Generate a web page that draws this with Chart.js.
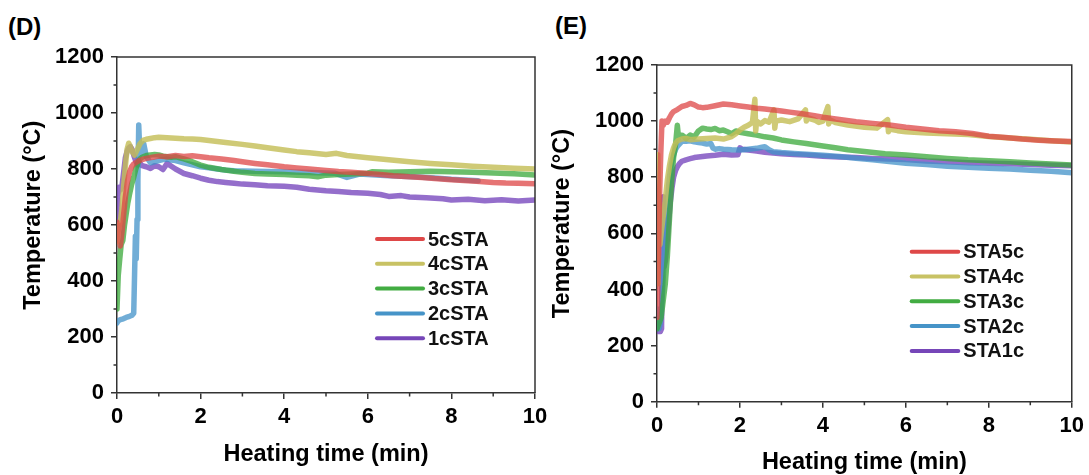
<!DOCTYPE html>
<html><head><meta charset="utf-8">
<script src="https://cdn.jsdelivr.net/npm/chart.js@4.4.1/dist/chart.umd.min.js"></script>
<style>
html,body{margin:0;padding:0;background:#fff;}
#wrap{position:relative;width:1089px;height:475px;overflow:hidden;background:#fff;}
canvas{position:absolute;top:0;}
#cD{left:0;} #cE{left:545px;}
.lab{position:absolute;font:bold 24px "Liberation Sans",Arial,sans-serif;line-height:24px;color:#000;}
</style></head>
<body><div id="wrap">
<div class="lab" style="left:8px;top:15px">(D)</div>
<div class="lab" style="left:555px;top:13.5px">(E)</div>
<canvas id="cD" width="560" height="475"></canvas>
<canvas id="cE" width="544" height="475"></canvas>
</div>
<script>
// ---------- tick values ----------
const xMajor = [0, 2, 4, 6, 8, 10];
const xMinor = [1, 3, 5, 7, 9];
const yMajor = [0, 200, 400, 600, 800, 1000, 1200];
const yMinor = [100, 300, 500, 700, 900, 1100];

// ---------- Panel D ----------
const D_labels = ['5cSTA', '4cSTA', '3cSTA', '2cSTA', '1cSTA'];
const D_5c_t = [0.00,0.04,0.08,0.12,0.16,0.20,0.25,0.30,0.35,0.40,
  0.50,0.60,0.70,0.85,1.00,1.20,1.40,1.60,1.80,2.00,
  2.20,2.50,2.80,3.00,3.30,3.60,4.00,4.30,4.60,5.00,
  5.30,5.60,6.00,6.30,6.60,7.00,7.30,7.60,8.00,8.30,
  8.60,9.00,9.30,9.60,10.0];
const D_5c_v = [610,560,525,575,640,700,755,790,808,818,
  828,834,838,842,846,844,848,845,847,844,
  840,836,830,826,820,815,808,804,800,795,
  791,788,784,780,776,772,770,766,762,759,
  756,752,750,749,747];
const D_4c_t = [0.00,0.04,0.08,0.12,0.16,0.20,0.24,0.28,0.32,0.36,
  0.42,0.48,0.55,0.62,0.70,0.80,0.90,1.00,1.20,1.40,
  1.60,1.80,2.00,2.30,2.60,3.00,3.30,3.60,4.00,4.30,
  4.60,5.00,5.25,5.50,6.00,6.50,7.00,7.50,8.00,8.50,
  9.00,9.50,10.0];
const D_4c_v = [540,590,610,660,740,810,870,892,880,862,
  850,868,890,902,906,909,912,913,912,910,
  908,907,905,900,895,888,882,876,868,862,
  858,852,856,848,840,833,826,820,815,810,
  806,803,800];
const D_3c_t = [0.00,0.03,0.06,0.10,0.14,0.18,0.22,0.26,0.30,0.35,
  0.40,0.45,0.50,0.55,0.60,0.70,0.80,0.90,1.00,1.10,
  1.20,1.30,1.40,1.50,1.60,1.80,2.00,2.20,2.50,2.80,
  3.00,3.30,3.60,4.00,4.30,4.60,4.80,5.00,5.30,5.60,
  6.00,6.10,6.50,7.00,7.50,8.00,8.50,9.00,9.50,10.0];
const D_3c_v = [300,420,470,530,545,600,640,680,710,745,
  770,800,822,836,842,848,850,852,850,846,
  844,842,844,840,836,826,814,806,798,792,
  788,784,782,780,778,776,772,778,780,782,
  785,790,788,790,792,790,788,786,783,779];
const D_2c_t = [0.00,0.03,0.08,0.15,0.22,0.30,0.36,0.40,0.42,0.44,
  0.46,0.48,0.50,0.52,0.54,0.56,0.60,0.64,0.70,0.80,
  0.90,1.00,1.10,1.20,1.30,1.40,1.60,1.80,2.00,2.20,
  2.40,2.60,2.80,3.00,3.30,3.60,4.00,4.40,4.80,5.20,
  5.50,5.80,6.00,6.40,6.80,7.20,7.60,8.00,8.30,8.64];
const D_2c_v = [250,258,262,265,270,274,278,285,420,560,
  480,620,760,957,880,850,870,890,845,822,
  826,830,834,836,832,830,822,815,808,804,
  800,796,794,793,792,791,790,788,787,785,
  770,782,780,777,774,771,768,763,761,758];
const D_1c_t = [0.00,0.02,0.05,0.08,0.12,0.16,0.20,0.24,0.28,0.32,
  0.36,0.40,0.45,0.50,0.55,0.60,0.70,0.80,0.90,1.00,
  1.10,1.20,1.30,1.40,1.60,1.80,2.00,2.20,2.40,2.60,
  2.80,3.00,3.30,3.60,4.00,4.30,4.60,5.00,5.30,5.60,
  6.00,6.30,6.50,6.80,7.00,7.40,7.80,8.00,8.40,8.80,
  9.20,9.60,10.0];
const D_1c_v = [620,700,735,725,740,790,840,862,875,880,
  870,850,828,815,820,812,808,802,812,808,
  798,820,810,800,784,776,767,760,755,752,
  749,746,744,740,738,735,728,722,720,716,
  713,709,702,705,700,697,694,689,692,687,
  690,686,689];

// ---------- Panel E ----------
const E_labels = ['STA5c', 'STA4c', 'STA3c', 'STA2c', 'STA1c'];
const E_5c_t = [0.00,0.03,0.06,0.09,0.12,0.15,0.20,0.25,0.30,0.35,
  0.40,0.50,0.60,0.70,0.80,0.90,1.00,1.10,1.20,1.40,
  1.60,1.80,2.00,2.20,2.40,2.60,2.80,3.00,3.20,3.50,
  3.80,4.00,4.40,4.80,5.20,5.60,6.00,6.40,6.80,7.20,
  7.60,8.00,8.40,8.80,9.20,9.60,10.0];
const E_5c_v = [300,480,720,880,1000,985,1000,996,1012,1025,
  1034,1042,1052,1056,1063,1058,1050,1048,1049,1055,
  1061,1058,1054,1050,1046,1043,1040,1036,1032,1026,
  1019,1014,1006,998,992,986,978,972,966,962,
  956,946,942,936,932,929,927];
const E_4c_t = [0.00,0.02,0.04,0.07,0.10,0.15,0.20,0.25,0.30,0.35,
  0.40,0.45,0.50,0.60,0.70,0.80,1.00,1.20,1.40,1.60,
  1.80,1.90,2.00,2.10,2.20,2.30,2.36,2.38,2.40,2.50,
  2.60,2.70,2.82,2.84,2.86,3.00,3.20,3.40,3.58,3.60,
  3.62,3.80,3.90,4.00,4.12,4.14,4.16,4.30,4.60,5.00,
  5.30,5.56,5.58,5.60,5.80,6.00,6.50,7.00,7.50,8.00,
  8.50,9.00,9.50,10.0];
const E_4c_v = [420,880,700,560,600,660,720,790,840,880,
  905,922,930,936,938,934,936,938,940,936,
  945,955,968,978,985,995,1078,965,1000,990,
  1002,996,1040,975,1000,1004,998,1008,1040,1000,
  1012,1004,995,1000,1052,990,1005,995,986,978,
  975,1005,962,972,966,962,958,955,952,945,
  940,935,930,926];
const E_3c_t = [0.00,0.05,0.10,0.15,0.20,0.25,0.30,0.35,0.40,0.45,
  0.49,0.52,0.56,0.60,0.65,0.70,0.80,0.90,1.00,1.10,
  1.20,1.30,1.40,1.50,1.60,1.70,1.80,1.90,2.00,2.20,
  2.40,2.60,2.80,3.00,3.30,3.60,4.00,4.30,4.60,5.00,
  5.50,6.00,6.50,7.00,7.50,8.00,8.50,9.00,9.50,10.0];
const E_3c_v = [260,280,300,360,420,520,650,780,870,920,
  985,940,948,950,945,938,950,944,965,975,
  972,970,974,966,968,962,955,965,960,955,
  950,944,940,933,926,920,911,905,898,892,
  884,879,873,867,862,859,855,851,847,844];
const E_2c_t = [0.00,0.05,0.08,0.12,0.16,0.20,0.25,0.30,0.35,0.40,
  0.45,0.50,0.55,0.60,0.70,0.80,0.90,1.00,1.10,1.20,
  1.30,1.35,1.40,1.50,1.60,1.80,2.00,2.20,2.40,2.50,
  2.60,2.70,2.80,3.00,3.30,3.60,4.00,4.40,4.80,5.20,
  5.60,6.00,6.50,7.00,7.50,8.00,8.50,9.00,9.50,10.0];
const E_2c_v = [330,260,280,360,470,600,720,800,850,880,
  900,912,920,928,928,930,926,924,922,918,
  920,904,900,902,900,898,897,900,903,906,
  909,898,891,888,885,882,878,874,868,862,
  856,850,845,839,836,832,829,825,821,816];
const E_1c_t = [0.00,0.05,0.08,0.11,0.13,0.15,0.17,0.20,0.24,0.28,
  0.32,0.36,0.40,0.45,0.50,0.55,0.60,0.70,0.80,0.90,
  1.00,1.20,1.40,1.60,1.80,1.95,2.00,2.05,2.20,2.40,
  2.60,2.80,3.00,3.30,3.60,4.00,4.40,4.80,5.20,5.60,
  6.00,6.50,7.00,7.50,8.00,8.50,9.00,9.50,10.0];
const E_1c_v = [280,250,250,260,600,730,480,500,560,640,
  710,760,800,825,840,850,857,862,866,870,
  872,876,878,882,879,880,905,900,897,893,
  889,886,884,881,879,875,872,870,867,865,
  863,858,855,852,850,848,845,843,841];

// ---------- styles ----------
const FONT = '"Liberation Sans", Arial, sans-serif';
const lineColors = ['rgba(222,70,70,0.75)','rgba(196,190,88,0.82)','rgba(58,168,58,0.75)','rgba(66,145,200,0.75)','rgba(112,62,185,0.75)'];
const legendColors = ['rgb(222,72,72)','rgb(200,194,100)','rgb(66,172,66)','rgb(70,148,200)','rgb(118,70,184)'];
const AXIS = '#333';

const legendPlugin = {
  id: 'insideLegend',
  afterDatasetsDraw(chart, args, o) {
    const ctx = chart.ctx;
    ctx.save();
    chart.data.datasets.forEach((ds, i) => {
      const y = o.y0 + i * o.dy;
      ctx.strokeStyle = legendColors[i];
      ctx.lineWidth = 4;
      ctx.lineCap = 'round';
      ctx.beginPath(); ctx.moveTo(o.x0, y); ctx.lineTo(o.x1, y); ctx.stroke();
      ctx.fillStyle = '#111';
      ctx.font = 'bold 20px ' + FONT;
      ctx.textBaseline = 'middle';
      ctx.textAlign = 'left';
      ctx.fillText(ds.label, o.x1 + 5, y + 1);
    });
    ctx.restore();
  }
};

const framePlugin = {
  id: 'frame',
  afterDraw(chart) {
    const {ctx, chartArea: a, scales: {x, y}} = chart;
    ctx.save();
    ctx.strokeStyle = AXIS; ctx.lineWidth = 1.5;
    ctx.beginPath();
    ctx.moveTo(a.left, a.top); ctx.lineTo(a.right, a.top); ctx.lineTo(a.right, a.bottom);
    xMinor.forEach(v => { const p = x.getPixelForValue(v); ctx.moveTo(p, a.bottom); ctx.lineTo(p, a.bottom + 3.5); });
    yMinor.forEach(v => { const p = y.getPixelForValue(v); ctx.moveTo(a.left, p); ctx.lineTo(a.left - 3.5, p); });
    ctx.stroke();
    ctx.restore();
  }
};

function makeChart(id, labels, ts, vs, o) {
  const datasets = labels.map((lab, i) => ({
    label: lab,
    data: ts[i].map((t, k) => ({x: t, y: vs[i][k]})),
    borderColor: lineColors[i],
    backgroundColor: lineColors[i],
    borderWidth: 5.5,
    pointRadius: 0,
    tension: 0,
    fill: false,
    borderJoinStyle: 'round',
    borderCapStyle: 'round'
  }));
  const tickFont = {family: FONT, size: 22, weight: 'bold'};
  const titleFont = {family: FONT, size: 23.5, weight: 'bold', lineHeight: 1};
  return new Chart(document.getElementById(id), {
    type: 'line',
    data: {datasets},
    plugins: [legendPlugin, framePlugin],
    options: {
      responsive: false,
      animation: false,
      events: [],
      layout: {padding: {left: 0, top: o.top, right: o.right, bottom: 0}},
      plugins: {
        legend: {display: false},
        tooltip: {enabled: false},
        insideLegend: o.legend
      },
      scales: {
        x: {
          type: 'linear', min: 0, max: 10,
          afterBuildTicks: s => { s.ticks = xMajor.map(v => ({value: v})); },
          ticks: {color: '#000', font: tickFont, padding: 5, maxRotation: 0, autoSkip: false, callback: v => String(v)},
          grid: {drawOnChartArea: false, drawTicks: true, tickLength: 6, color: AXIS, lineWidth: 1.5},
          border: {display: true, color: AXIS, width: 1.5},
          title: {display: true, text: 'Heating time (min)', color: '#000', font: titleFont, padding: {top: 0, bottom: o.xTitlePad}},
          afterFit: s => { s.height = o.xAxisH; }
        },
        y: {
          type: 'linear', min: 0, max: 1200,
          afterBuildTicks: s => { s.ticks = yMajor.map(v => ({value: v})); },
          ticks: {color: '#000', font: tickFont, padding: 7, autoSkip: false, callback: v => String(v)},
          grid: {drawOnChartArea: false, drawTicks: true, tickLength: 6, color: AXIS, lineWidth: 1.5},
          border: {display: true, color: AXIS, width: 1.5},
          title: {display: true, text: '   Temperature (°C)', color: '#000', font: titleFont, padding: {top: o.yTitlePad, bottom: 0}},
          afterFit: s => { s.width = o.yAxisW; }
        }
      }
    }
  });
}

makeChart('cD', D_labels,
  [D_5c_t, D_4c_t, D_3c_t, D_2c_t, D_1c_t],
  [D_5c_v, D_4c_v, D_3c_v, D_2c_v, D_1c_v],
  {top: 57, right: 25, yAxisW: 117, xAxisH: 82, xTitlePad: 8.25, yTitlePad: 21.75,
   legend: {x0: 377, x1: 423, y0: 239, dy: 24.8}});

makeChart('cE', E_labels,
  [E_5c_t, E_4c_t, E_3c_t, E_2c_t, E_1c_t],
  [E_5c_v, E_4c_v, E_3c_v, E_2c_v, E_1c_v],
  {top: 65, right: 14, yAxisW: 112, xAxisH: 73.3, xTitlePad: 0.25, yTitlePad: 6.25,
   legend: {x0: 366.7, x1: 413.3, y0: 251.7, dy: 24.8}});
</script>
</body></html>
